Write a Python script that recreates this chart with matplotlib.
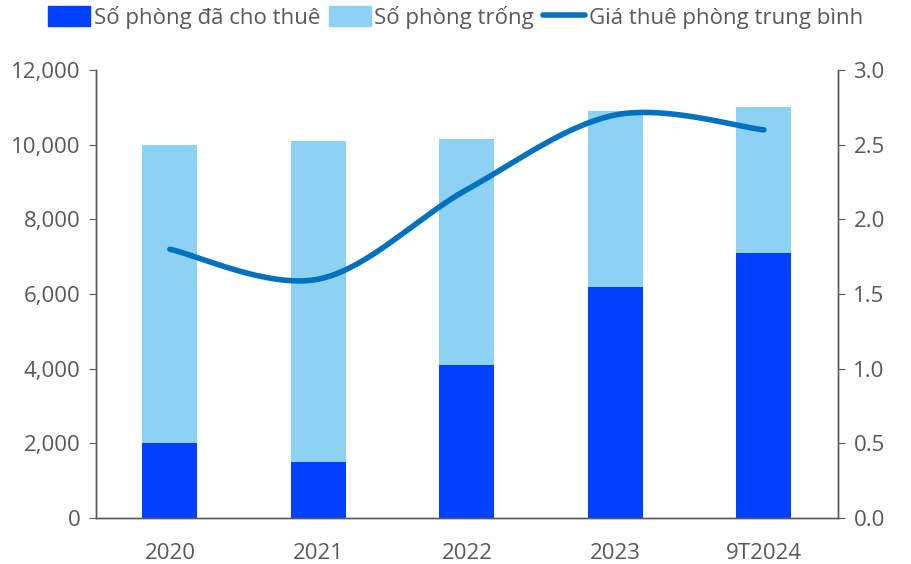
import numpy as np
import matplotlib.pyplot as plt
from matplotlib.lines import Line2D
from matplotlib.patches import Patch

plt.rcParams['font.family'] = ['Open Sans', 'DejaVu Sans']

years = ['2020', '2021', '2022', '2023', '9T2024']
occupied = [2000, 1500, 4100, 6200, 7100]
total = [10000, 10100, 10150, 10900, 11000]
vacant = [t - o for t, o in zip(total, occupied)]
avg_price = [1.8, 1.6, 2.2, 2.7, 2.6]

c_occ = '#0041FF'
c_vac = '#8DD1F3'
c_line = '#0070C0'
c_text = '#595959'
c_axis = '#595959'


def smooth(xs, ys, n=40):
    # catmull-rom style smoothing like Excel's smoothed line
    xs = np.asarray(xs, float)
    ys = np.asarray(ys, float)
    px = np.concatenate([[xs[0]], xs, [xs[-1]]])
    py = np.concatenate([[ys[0]], ys, [ys[-1]]])
    ox, oy = [], []
    for i in range(1, len(px) - 2):
        p0 = np.array([px[i - 1], py[i - 1]])
        p1 = np.array([px[i], py[i]])
        p2 = np.array([px[i + 1], py[i + 1]])
        p3 = np.array([px[i + 2], py[i + 2]])
        c1 = p1 + (p2 - p0) / 6
        c2 = p2 - (p3 - p1) / 6
        t = np.linspace(0, 1, n)[:, None]
        b = (1 - t) ** 3 * p1 + 3 * (1 - t) ** 2 * t * c1 + 3 * (1 - t) * t ** 2 * c2 + t ** 3 * p2
        ox.extend(b[:, 0])
        oy.extend(b[:, 1])
    return ox, oy


fig = plt.figure(figsize=(9.11, 5.64), dpi=100)
ax = fig.add_axes([0.105, 0.0816, 0.815, 0.794])
x = np.arange(len(years))
w = 0.37
ax.bar(x, occupied, w, color=c_occ, zorder=2)
ax.bar(x, vacant, w, bottom=occupied, color=c_vac, zorder=2)
ax.set_xlim(-0.5, len(years) - 0.5)
ax.set_ylim(0, 12000)
ax.set_yticks(range(0, 12001, 2000))
ax.set_yticklabels([f'{v:,}' for v in range(0, 12001, 2000)])
ax.set_xticks(x)
ax.set_xticklabels(years)

ax2 = ax.twinx()
ax2.set_ylim(0, 3)
ax2.set_yticks(np.arange(0, 3.01, 0.5))
ax2.set_yticklabels([f'{v:.1f}' for v in np.arange(0, 3.01, 0.5)])
sx, sy = smooth(x, avg_price)
ax2.plot(sx, sy, color=c_line, lw=4, solid_capstyle='round', zorder=3)

for a in (ax, ax2):
    a.spines['top'].set_visible(False)
    for s in ('left', 'right', 'bottom'):
        a.spines[s].set_color(c_axis)
        a.spines[s].set_linewidth(1)
    a.tick_params(axis='y', colors=c_axis, labelcolor=c_text, labelsize=16, length=5, direction='out', pad=6)
    a.tick_params(axis='x', length=0, labelcolor=c_text, labelsize=16, pad=18)

handles = [Patch(color=c_occ), Patch(color=c_vac), Line2D([0], [0], color=c_line, lw=4, solid_capstyle='round')]
labels = ['Số phòng đã cho thuê', 'Số phòng trống', 'Giá thuê phòng trung bình']
fig.legend(handles, labels, loc='upper center', bbox_to_anchor=(0.5, 1.025), ncol=3, frameon=False,
           fontsize=16, labelcolor=c_text, handlelength=1.9, handleheight=1.0, handletextpad=0.15, columnspacing=0.4)

fig.savefig('out.png', dpi=100)
